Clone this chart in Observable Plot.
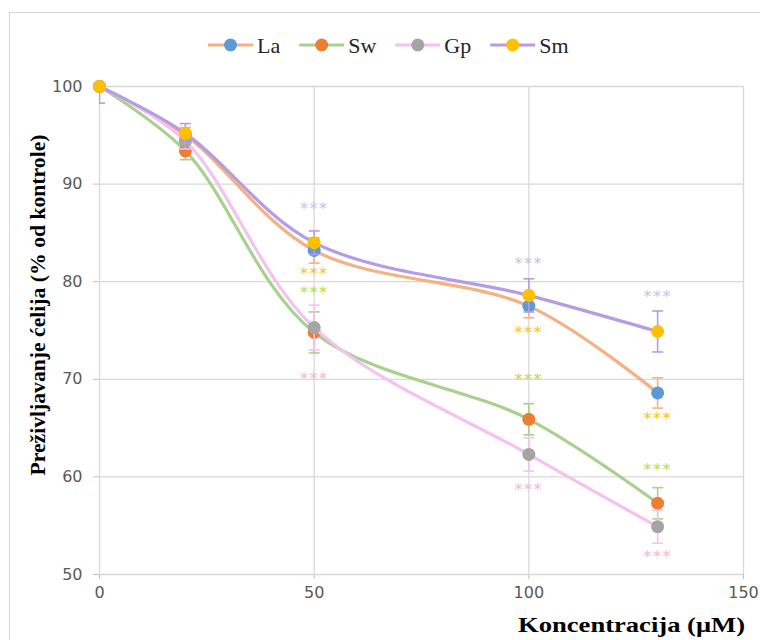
<!DOCTYPE html>
<html><head><meta charset="utf-8">
<script src="https://cdn.jsdelivr.net/npm/d3@7"></script>
<script src="https://cdn.jsdelivr.net/npm/@observablehq/plot@0.6"></script>
<style>
html,body{margin:0;padding:0;background:#fff;width:760px;height:640px;overflow:hidden}
#wrap{position:relative;width:760px;height:640px;overflow:hidden}
#border{position:absolute;left:9px;top:12px;width:800px;height:700px;border:1.5px solid #d6d6d6;box-sizing:border-box}
#chart{position:absolute;left:0;top:0}
#legend{position:absolute;left:0;top:0}
</style>
</head><body>
<div id="wrap"><div id="border"></div><div id="chart"></div><svg id="legend" width="760" height="80"></svg></div>
<script>
// ---- data ----
const conc = [0, 20, 50, 100, 130];
const seriesNames = ["La", "Sw", "Gp", "Sm"];
const La = [100, 95.0, 83.2, 77.5, 68.6];
const Sw = [100, 93.4, 74.8, 65.9, 57.3];
const Gp = [100, 94.4, 75.3, 62.3, 54.9];
const Sm = [100, 95.2, 84.0, 78.6, 74.9];
const LaSD = [0, 0.8, 1.3, 1.2, 1.55];
const SwSD = [0, 0.9, 2.1, 1.6, 1.6];
const GpSD = [0, 0.8, 2.3, 1.7, 1.7];
const SmSD = [1.7, 1.0, 1.2, 1.7, 2.1];
const xTicks = [0, 50, 100, 150];
const yTicks = [50, 60, 70, 80, 90, 100];
// significance marks (***): concentration, level, series they belong to
const starConc = [50, 50, 50, 50, 100, 100, 100, 100, 130, 130, 130, 130];
const starLevel = [87.9, 81.2, 79.3, 70.5, 82.2, 75.2, 70.3, 59.1, 78.9, 66.4, 61.1, 52.2];
const starSeries = ["Sm", "La", "Sw", "Gp", "Sm", "La", "Sw", "Gp", "Sm", "La", "Sw", "Gp"];
const yTitle = "Preživljavanje ćelija (% od kontrole)";
const xTitle = "Koncentracija (μM)";

// ---- styles ----
const values = {La, Sw, Gp, Sm};
const sds = {La: LaSD, Sw: SwSD, Gp: GpSD, Sm: SmSD};
const lineColor = {La: "#f4b183", Sw: "#a9d18e", Gp: "#f5c2f0", Sm: "#b59de3"};
const markerColor = {La: "#5b9bd5", Sw: "#ed7d31", Gp: "#a5a5a5", Sm: "#ffc000"};
const starColor = {Sm: "#c9c3e3", La: "#f7c31a", Sw: "#b7de4a", Gp: "#f3b8cc"};

const cap = {draw(ctx, size) { const w = Math.sqrt(size / Math.PI); ctx.moveTo(-w, 0); ctx.lineTo(w, 0); }};

const marks = [
  Plot.ruleY(yTicks, {stroke: "#d9d9d9", strokeWidth: 1.3}),
  Plot.ruleX(xTicks, {stroke: "#d9d9d9", strokeWidth: 1.3})
];
for (const name of seriesNames) {
  const rows = conc.map((c, j) => ({c, v: values[name][j], sd: sds[name][j]}));
  const err = rows.filter(d => d.sd > 0);
  marks.push(Plot.line(rows, {x: "c", y: "v", stroke: lineColor[name], strokeWidth: 3.2, curve: "catmull-rom"}));
  marks.push(Plot.ruleX(err, {x: "c", y1: d => d.v - d.sd, y2: d => d.v + d.sd, stroke: lineColor[name], strokeWidth: 1.6, clip: true}));
  marks.push(Plot.dot(err, {x: "c", y: d => d.v + d.sd, symbol: cap, r: 5.5, fill: "none", stroke: lineColor[name], strokeWidth: 1.6, clip: true}));
  marks.push(Plot.dot(err, {x: "c", y: d => d.v - d.sd, symbol: cap, r: 5.5, fill: "none", stroke: lineColor[name], strokeWidth: 1.6, clip: true}));
  marks.push(Plot.dot(rows, {x: "c", y: "v", r: 6.5, fill: markerColor[name], stroke: "none"}));
}
const stars = starConc.map((c, i) => ({c, v: starLevel[i], s: starSeries[i]}));
marks.push(Plot.text(stars, {x: "c", y: "v", text: () => "***", fill: d => starColor[d.s], fontSize: 16, dy: 4, fontFamily: "DejaVu Sans"}));

const svg = Plot.plot({
  width: 760, height: 640,
  marginLeft: 99, marginRight: 17, marginTop: 86, marginBottom: 66,
  style: {fontFamily: "DejaVu Sans", fontSize: "16px", color: "#595959", background: "transparent"},
  x: {domain: [0, 150], ticks: xTicks, tickSize: 5, tickPadding: 7, label: null},
  y: {domain: [50, 100], ticks: yTicks, tickSize: 6, tickPadding: 11, label: null},
  marks
});
document.getElementById("chart").appendChild(svg);
const s = d3.select(svg);
s.selectAll('[aria-label^="x-axis"] line, [aria-label^="x-axis"] path, [aria-label^="y-axis"] line, [aria-label^="y-axis"] path')
  .attr("stroke", "#bfbfbf");
s.selectAll('[aria-label="text"] text').attr("letter-spacing", "1.5px");
s.append("text")
  .attr("transform", "translate(38,305) rotate(-90)")
  .attr("text-anchor", "middle").attr("dominant-baseline", "central")
  .attr("font-family", "Liberation Serif").attr("font-weight", "bold").attr("font-size", 21)
  .attr("fill", "#000").attr("textLength", 341).attr("lengthAdjust", "spacingAndGlyphs")
  .text(yTitle);
s.append("text")
  .attr("x", 745).attr("y", 632).attr("text-anchor", "end")
  .attr("font-family", "Liberation Serif").attr("font-weight", "bold").attr("font-size", 22)
  .attr("fill", "#000").attr("textLength", 227).attr("lengthAdjust", "spacingAndGlyphs")
  .text(xTitle);

// legend
const leg = d3.select("#legend");
let x0 = 208;
const cy = 45;
for (const name of seriesNames) {
  leg.append("line").attr("x1", x0).attr("x2", x0 + 45).attr("y1", cy).attr("y2", cy)
    .attr("stroke", lineColor[name]).attr("stroke-width", 3);
  leg.append("circle").attr("cx", x0 + 22.5).attr("cy", cy).attr("r", 6.5).attr("fill", markerColor[name]);
  const t = leg.append("text").attr("x", x0 + 49).attr("y", cy).attr("dominant-baseline", "central")
    .attr("font-family", "Liberation Serif").attr("font-size", 22).attr("fill", "#262626").text(name);
  x0 += 49 + t.node().getComputedTextLength() + 19;
}
</script>
</body></html>
